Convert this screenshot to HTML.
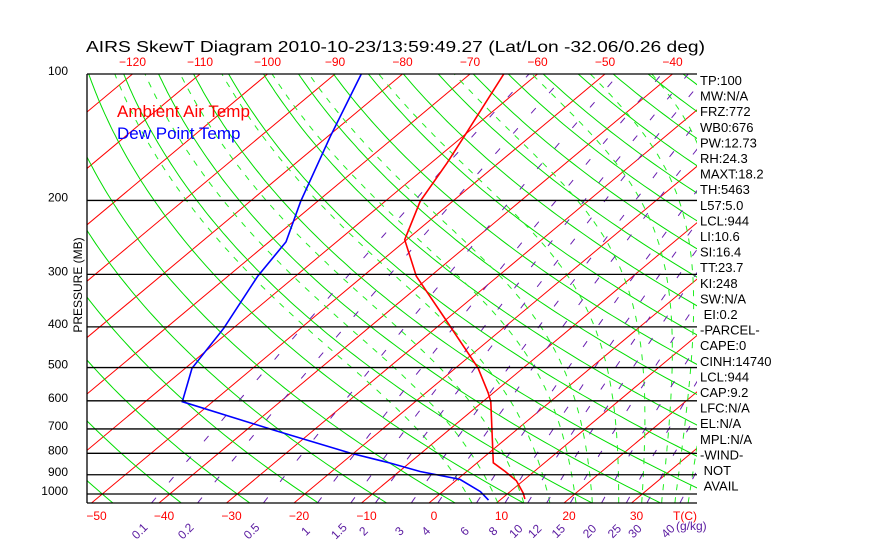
<!DOCTYPE html>
<html><head><meta charset="utf-8"><style>
html,body{margin:0;padding:0;background:#fff;}
svg{display:block;font-family:"Liberation Sans",sans-serif;}
</style></head><body>
<svg id="chart" width="870" height="560" viewBox="0 0 870 560" xmlns="http://www.w3.org/2000/svg">
<defs><clipPath id="plotclip"><rect x="87" y="74" width="610" height="429"/></clipPath></defs>
<rect width="870" height="560" fill="#fff"/>
<text x="86" y="52" font-size="16" textLength="619" lengthAdjust="spacingAndGlyphs" fill="#000">AIRS SkewT Diagram 2010-10-23/13:59:49.27 (Lat/Lon -32.06/0.26 deg)</text>
<g id="bg" clip-path="url(#plotclip)"></g>
<g id="series" clip-path="url(#plotclip)"></g>
<g id="axes"></g>
<text x="117" y="117" font-size="17" fill="#ff0000">Ambient Air Temp</text>
<text x="117" y="139" font-size="17" fill="#0000ff">Dew Point Temp</text>
<text transform="translate(82,285) rotate(-90)" text-anchor="middle" font-size="12" fill="#000">PRESSURE (MB)</text>
<g id="panel" font-size="13" fill="#000"></g>
</svg>
<script>
// ---- data ----
const tempP = [1028, 995, 930, 884, 843, 603, 574, 501, 381, 303, 248, 201, 163, 137, 100];
const tempT = [13.5, 12.2, 9.0, 5.7, 2.4, -8.8, -10.8, -16.7, -30.5, -42.1, -50.3, -54.8, -57.6, -60.2, -65.0];
const dewP = [1034, 987, 923, 884, 844, 799, 704, 603, 502, 403, 303, 251, 201, 141, 100];
const dewT = [8.3, 5.6, 0.4, -6.9, -12.8, -20.5, -36.0, -54.5, -59.0, -61.4, -65.6, -67.5, -72.5, -79.6, -86.1];
const pressureTicks = [100, 200, 300, 400, 500, 600, 700, 800, 900, 1000];
const bottomTempTicks = [-50, -40, -30, -20, -10, 0, 10, 20, 30];
const topTempTicks = [-120, -110, -100, -90, -80, -70, -60, -50, -40];
const mixRatios = [0.1, 0.2, 0.5, 1, 1.5, 2, 3, 4, 6, 8, 10, 12, 15, 20, 25, 30, 40];
const moistStart = [4, 8, 12, 16, 20, 22.5, 26.5, 30, 33, 35, 37];
const panelLines = ["TP:100","MW:N/A","FRZ:772","WB0:676","PW:12.73","RH:24.3","MAXT:18.2","TH:5463","L57:5.0","LCL:944","LI:10.6","SI:16.4","TT:23.7","KI:248","SW:N/A"," EI:0.2","-PARCEL-","CAPE:0","CINH:14740","LCL:944","CAP:9.2","LFC:N/A","EL:N/A","MPL:N/A","-WIND-"," NOT"," AVAIL"];

// ---- axes ----
const NS="http://www.w3.org/2000/svg";
const Y0=74, YB=503, KP=420, X0=429, KT=6.75, SK=1.197, XL=87, XR=697;
const PB=100*Math.pow(10,(YB-Y0)/KP);
function yP(p){return Y0+KP*Math.log10(p/100);}
function xT(T,p){return X0+KT*T+SK*(YB-yP(p));}
function mk(tag,attrs,parent){const e=document.createElementNS(NS,tag);for(const k in attrs)e.setAttribute(k,attrs[k]);parent.appendChild(e);return e;}
const bg=document.getElementById('bg'), series=document.getElementById('series'), axes=document.getElementById('axes'), panel=document.getElementById('panel');
function pts(arrP,arrT){return arrP.map((p,i)=>xT(arrT[i],p).toFixed(1)+','+yP(p).toFixed(1)).join(' ');}
const pgrid=[];for(let p=100;p<PB;p*=1.02)pgrid.push(p);pgrid.push(PB);

// isotherms
for(let T=-180;T<=50;T+=10){
  const l=mk('line',{x1:xT(T,PB),y1:YB,x2:xT(T,100),y2:Y0,stroke:'#ff0000','stroke-width':1},bg);
  
  
}
// dry adiabats
for(let k=-12;k<=25;k++){
  const th=273.15+10*k;
  const pl=mk('polyline',{points:pgrid.map(p=>xT(th*Math.pow(p/1000,0.2857)-273.15,p).toFixed(1)+','+yP(p).toFixed(1)).join(' '),fill:'none',stroke:'#00dd00','stroke-width':1},bg);
  
  
}
// moist adiabats
function es(Tc){return 6.112*Math.exp(17.67*Tc/(Tc+243.5));}
function dTdlnp(TK,p){const rs=0.622*es(TK-273.15)/(p-es(TK-273.15));const Rd=287,cp=1004,L=2.5e6;return (Rd*TK+L*rs)/(cp+L*L*rs*0.622/(Rd*TK*TK));}
moistStart.forEach(T0=>{
  let arr=[];let TK=T0+273.15,p=1000;const h=0.01;
  arr.push([p,TK]);
  while(p>100){TK-=dTdlnp(TK,p)*h;p*=Math.exp(-h);arr.push([p,TK]);}
  let TK2=T0+273.15,p2=1000;const down=[];
  while(p2<PB){TK2+=dTdlnp(TK2,p2)*h;p2*=Math.exp(h);down.push([p2,TK2]);}
  arr=down.reverse().concat(arr);
  const pl=mk('polyline',{points:arr.map(a=>xT(a[1]-273.15,a[0]).toFixed(1)+','+yP(a[0]).toFixed(1)).join(' '),fill:'none',stroke:'#22ee22','stroke-width':1,'stroke-dasharray':'6 7'},bg);
  
  
});
// mixing ratio lines
function tdFromW(w,p){const e=w*p/(622+w);const g=Math.log(e/6.112);return 243.5*g/(17.67-g);}
mixRatios.forEach(w=>{
  const pl=mk('polyline',{points:pgrid.slice().reverse().map(p=>xT(tdFromW(w,p),p).toFixed(1)+','+yP(p).toFixed(1)).join(' '),fill:'none',stroke:'#6a1fb0','stroke-width':1,'stroke-dasharray':'7 20'},bg);
  
  
});
// pressure lines + labels
pressureTicks.forEach(p=>{
  const l=mk('line',{x1:XL,x2:XR,y1:yP(p),y2:yP(p),stroke:'#000','stroke-width':1.3},axes);
  
  
  const t=mk('text',{x:68,y:yP(p)+1,'text-anchor':'end','font-size':12,fill:'#000'},axes);
  t.textContent=p;
  
  
});
const bl=mk('line',{x1:XL,x2:XR,y1:YB,y2:YB,stroke:'#000','stroke-width':1.3},axes);


const ll=mk('line',{x1:XL,x2:XL,y1:Y0,y2:YB,stroke:'#000','stroke-width':1.3},axes);


bottomTempTicks.forEach(T=>{
  const t=mk('text',{x:xT(T,PB)+5,y:520,'text-anchor':'middle','font-size':12,fill:'#ff0000'},axes);
  t.textContent=T<0?'\u2212'+(-T):T;
  
  
});
const tc=mk('text',{x:685,y:520,'text-anchor':'middle','font-size':12,fill:'#ff0000'},axes);
tc.textContent='T(C)';


topTempTicks.forEach(T=>{
  const t=mk('text',{x:xT(T,100),y:66,'text-anchor':'middle','font-size':12,fill:'#ff0000'},axes);
  t.textContent=T<0?'\u2212'+(-T):T;
  
  
});
mixRatios.forEach(w=>{
  const x=xT(tdFromW(w,PB),PB)-9;
  const t=mk('text',{x:0,y:0,transform:'translate('+x.toFixed(1)+',534) rotate(-45)','text-anchor':'middle','font-size':12,fill:'#5a1aa0'},axes);
  t.textContent=w;
  
  
});
const gk=mk('text',{x:676,y:530,'font-size':12,fill:'#5a1aa0'},axes);
gk.textContent='(g/kg)';


// series
const tl=mk('polyline',{points:pts(tempP,tempT),fill:'none',stroke:'#ff0000','stroke-width':1.6},series);


const dl=mk('polyline',{points:pts(dewP,dewT),fill:'none',stroke:'#0000ff','stroke-width':1.6},series);


// right panel
panelLines.forEach((s,i)=>{
  const t=mk('text',{x:700,y:85+i*15.6},panel);
  t.textContent=s.replace(/^ /,'\u00a0');
  
  
});
</script>
</body></html>
